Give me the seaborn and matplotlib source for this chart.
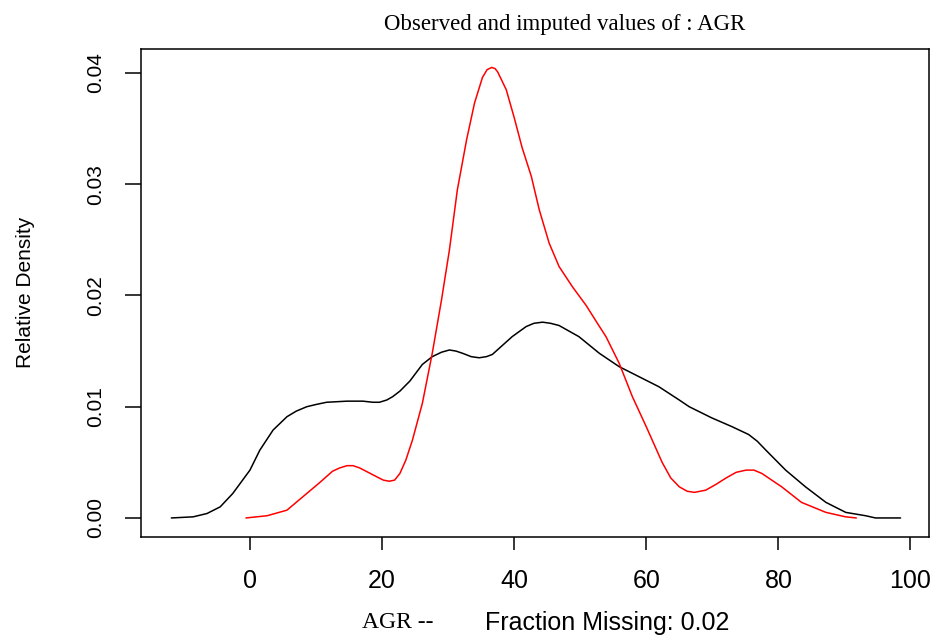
import seaborn as sns
import matplotlib.pyplot as plt

# observed density (black)
obs_x = [-11.9, -8.6, -6.5, -4.5, -2.6, 0.0, 1.5, 3.5, 5.6, 7.0, 8.6, 10.0, 11.6,
         14.7, 17.1, 18.6, 19.6, 20.7, 21.6, 22.7, 24.2, 26.1, 27.6, 29.0, 30.2,
         31.2, 32.2, 33.5, 34.7, 35.8, 36.7, 38.2, 39.7, 41.8, 43.0, 44.3, 45.5,
         46.8, 49.8, 52.9, 55.9, 58.9, 61.9, 65.0, 66.5, 69.9, 73.0, 75.5, 76.8,
         78.1, 81.1, 84.1, 87.2, 90.2, 93.2, 94.7, 98.5]
obs_y = [0.0, 0.0001, 0.0004, 0.0010, 0.0022, 0.0043, 0.0061, 0.0079, 0.0091, 0.0096,
         0.0100, 0.0102, 0.0104, 0.0105, 0.0105, 0.0104, 0.0104, 0.0106, 0.0109,
         0.0114, 0.0123, 0.0138, 0.0145, 0.0149, 0.0151, 0.0150, 0.0148, 0.0145,
         0.0144, 0.0145, 0.0147, 0.0155, 0.0163, 0.0172, 0.0175, 0.0176, 0.0175,
         0.0173, 0.0163, 0.0148, 0.0136, 0.0127, 0.0118, 0.0106, 0.0100, 0.0090,
         0.0082, 0.0075, 0.0069, 0.0061, 0.0043, 0.0028, 0.0014, 0.0005, 0.0002,
         0.0, 0.0]

# imputed density (red)
imp_x = [-0.6, 2.6, 5.6, 8.0, 10.6, 12.5, 13.6, 14.7, 15.6, 16.6, 19.2, 20.2, 21.1,
         21.9, 22.7, 23.6, 24.6, 26.1, 27.6, 29.0, 30.2, 31.4, 32.8, 34.0, 35.2,
         35.9, 36.6, 37.1, 37.5, 38.8, 40.0, 41.2, 42.6, 43.8, 45.3, 46.8, 48.8,
         50.9, 52.6, 53.9, 55.9, 57.9, 60.0, 62.4, 63.7, 65.0, 66.2, 67.3, 69.0,
         70.5, 72.1, 73.6, 75.1, 76.3, 77.5, 80.5, 83.5, 87.2, 90.2, 91.8]
imp_y = [0.0, 0.0002, 0.0007, 0.0019, 0.0032, 0.0042, 0.0045, 0.0047, 0.0047, 0.0045,
         0.0037, 0.0034, 0.0033, 0.0034, 0.0040, 0.0052, 0.0070, 0.0103, 0.0148,
         0.0196, 0.0241, 0.0295, 0.0340, 0.0373, 0.0396, 0.0403, 0.0405, 0.0404,
         0.0401, 0.0385, 0.0360, 0.0333, 0.0307, 0.0277, 0.0247, 0.0226, 0.0208,
         0.0191, 0.0175, 0.0163, 0.0139, 0.0109, 0.0082, 0.0050, 0.0036, 0.0028,
         0.0024, 0.0023, 0.0025, 0.0030, 0.0036, 0.0041, 0.0043, 0.0043, 0.0040,
         0.0028, 0.0014, 0.0005, 0.0001, 0.0]

x_ticks = [0, 20, 40, 60, 80, 100]
y_ticks = [0.00, 0.01, 0.02, 0.03, 0.04]

sns.set_style("ticks")
plt.rcParams['font.family'] = ['Liberation Sans', 'DejaVu Sans']
plt.rcParams['text.color'] = 'black'

fig = plt.figure(figsize=(9.36, 6.36), dpi=100)
ax = fig.add_axes([0.1506, 0.1557, 0.8419, 0.7673])

line_kw = dict(linewidth=1.1, sort=False, solid_joinstyle='round', solid_capstyle='round')
sns.lineplot(x=obs_x, y=obs_y, ax=ax, color='black', **line_kw)
sns.lineplot(x=imp_x, y=imp_y, ax=ax, color='red', **line_kw)

ax.set_xlim(-16.5, 102.8)
ax.set_ylim(-0.00171, 0.04216)
ax.set_xticks(x_ticks)
ax.set_yticks(y_ticks)
ax.set_xticklabels([str(v) for v in x_ticks], fontsize=18)
ax.set_yticklabels([f"{v:.2f}" for v in y_ticks], fontsize=15, rotation=90, va='center')
ax.tick_params(axis='x', direction='out', length=9, width=1.1, pad=14,
               color='black', labelcolor='black', bottom=True)
ax.tick_params(axis='y', direction='out', length=11.5, width=1.1, pad=14,
               color='black', labelcolor='black', left=True)
for s in ax.spines.values():
    s.set_visible(True)
    s.set_color('black')
    s.set_linewidth(1.1)
ax.set_xlabel('')
ax.set_ylabel('')

fig.text(0.6035, 0.961, "Observed and imputed values of : AGR", ha='center', va='center',
         fontsize=16.5, color='black', family=['Liberation Serif', 'DejaVu Serif'])
fig.text(0.3868, 0.021, "AGR --", ha='left', va='center', fontsize=17, color='black',
         family=['Liberation Serif', 'DejaVu Serif'])
fig.text(0.518, 0.021, "Fraction Missing: 0.02", ha='left', va='center', fontsize=18,
         color='black')
fig.text(0.027, 0.54, "Relative Density", ha='center', va='center', rotation=90,
         fontsize=15, color='black')

fig.savefig("out.png", dpi=100, facecolor='white')
